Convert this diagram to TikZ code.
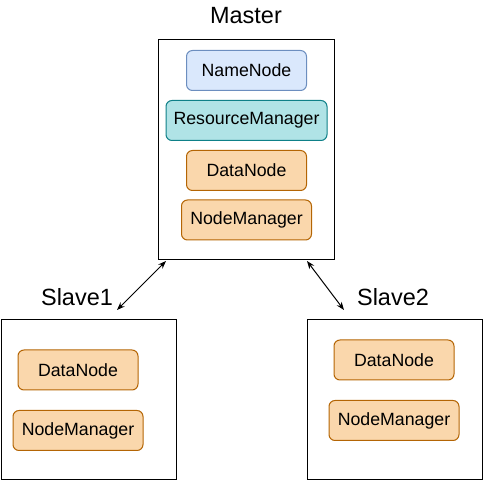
\documentclass[tikz,border=0pt]{standalone}
\usepackage{fontspec}
\setmainfont{Liberation Sans}
\usetikzlibrary{arrows.meta}
\definecolor{blueFill}{HTML}{DAE8FC}
\definecolor{blueLine}{HTML}{6C8EBF}
\definecolor{tealFill}{HTML}{B0E3E6}
\definecolor{tealLine}{HTML}{0E8088}
\definecolor{orangeFill}{HTML}{FAD7AC}
\definecolor{orangeLine}{HTML}{B46504}
\tikzset{
  host/.style={draw=black, line width=0.75pt, rectangle, inner sep=0pt},
  daemon/.style={rectangle, rounded corners=4.5pt, line width=0.75pt,
    minimum height=30pt, inner sep=0pt, font=\fontsize{13.3}{15}\selectfont},
  hostlabel/.style={font=\fontsize{17.6}{20}\selectfont},
}
\begin{document}
\begin{tikzpicture}[x=0.75pt,y=-0.75pt]
\useasboundingbox (0,0) rectangle (483,481);
  % Draw master
  \node (master) [host, minimum width=132pt, minimum height=165pt] at (246,150) {};
  \node (masterlabel) [hostlabel] at (246,16) {Master};
  \node (namenode) [daemon, fill=blueFill, draw=blueLine, minimum width=90pt] at (246.5,70.5) {NameNode};
  \node (resmanager) [daemon, fill=tealFill, draw=tealLine, minimum width=120.75pt] at (246.5,120.5) {ResourceManager};
  \node (mdatanode) [daemon, fill=orangeFill, draw=orangeLine, minimum width=90pt] at (246.5,170.5) {DataNode};
  \node (mnodemanager) [daemon, fill=orangeFill, draw=orangeLine, minimum width=97.5pt] at (246.5,220) {NodeManager};

  % Draw slave 1
  \node (slaveone) [host, minimum width=131.25pt, minimum height=120pt] at (88.5,400) {};
  \node (slaveonelabel) [hostlabel] at (77,297) {Slave1};
  \node (sonedatanode) [daemon, fill=orangeFill, draw=orangeLine, minimum width=90pt] at (78,370) {DataNode};
  \node (sonenodemanager) [daemon, fill=orangeFill, draw=orangeLine, minimum width=97.5pt] at (78,430.5) {NodeManager};

  % Draw slave 2
  \node (slavetwo) [host, minimum width=131.25pt, minimum height=120pt] at (394.5,400) {};
  \node (slavetwolabel) [hostlabel] at (393,297) {Slave2};
  \node (stwodatanode) [daemon, fill=orangeFill, draw=orangeLine, minimum width=90pt] at (394,360) {DataNode};
  \node (stwonodemanager) [daemon, fill=orangeFill, draw=orangeLine, minimum width=97.5pt] at (394,420.5) {NodeManager};

  % Draw links
  \coordinate (linkonetop) at (166,261);
  \coordinate (linkonebot) at (117,310);
  \coordinate (linktwotop) at (307,261);
  \coordinate (linktwobot) at (344,310);
  \draw[line width=0.75pt, {Stealth[length=6pt,width=4.5pt]}-{Stealth[length=6pt,width=4.5pt]}] (linkonetop) -- (linkonebot);
  \draw[line width=0.75pt, {Stealth[length=6pt,width=4.5pt]}-{Stealth[length=6pt,width=4.5pt]}] (linktwotop) -- (linktwobot);
\end{tikzpicture}
\end{document}
